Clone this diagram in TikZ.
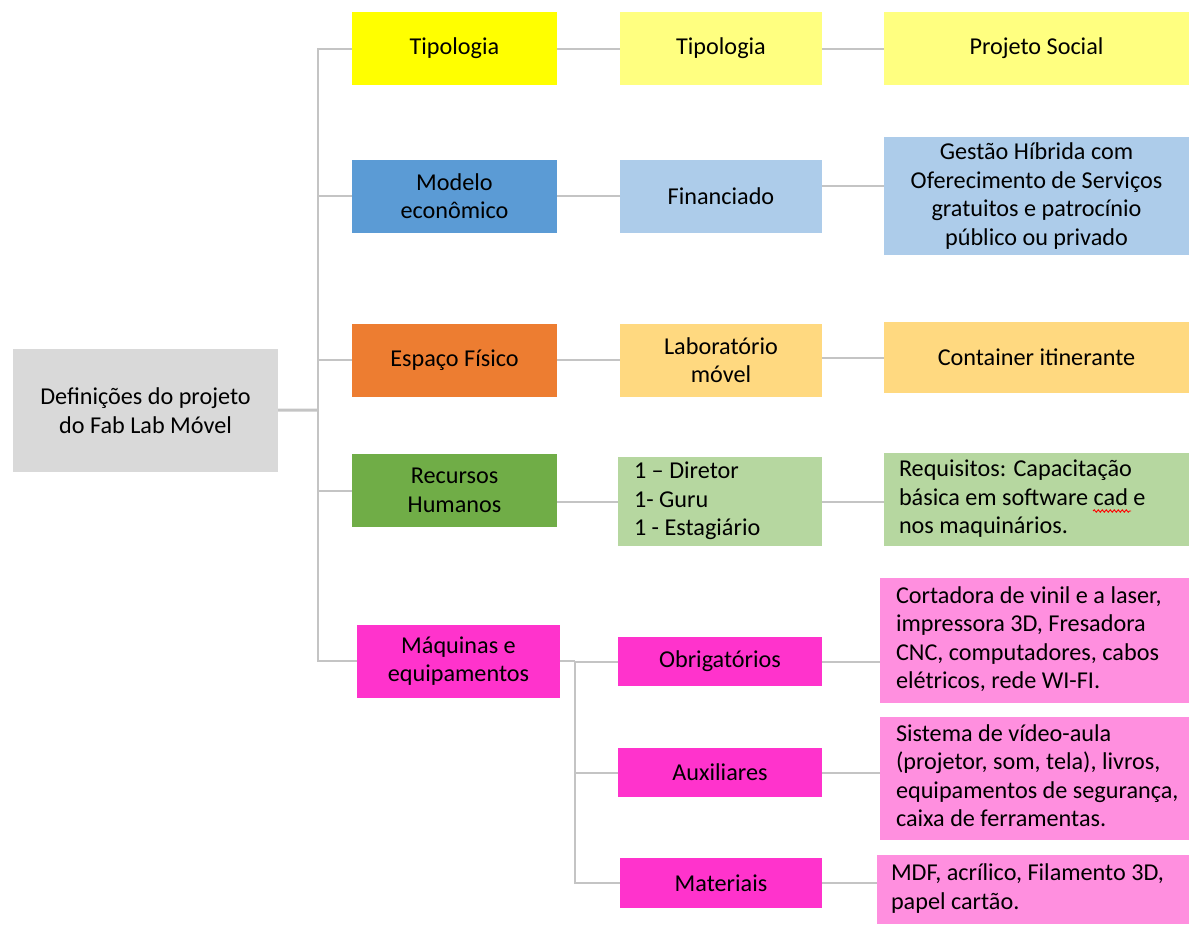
\documentclass[tikz,border=0pt]{standalone}
\usepackage{fontspec}
\setmainfont{Carlito}
\usetikzlibrary{decorations.pathmorphing}

\definecolor{rootgray}{HTML}{D9D9D9}
\definecolor{linegray}{HTML}{C4C4C4}
\definecolor{yelA}{HTML}{FFFF00}
\definecolor{yelB}{HTML}{FFFF80}
\definecolor{bluA}{HTML}{5B9BD5}
\definecolor{bluB}{HTML}{ADCCEA}
\definecolor{orgA}{HTML}{ED7D31}
\definecolor{orgB}{HTML}{FFD980}
\definecolor{grnA}{HTML}{70AD47}
\definecolor{grnB}{HTML}{B6D7A0}
\definecolor{pnkA}{HTML}{FF33CC}
\definecolor{pnkB}{HTML}{FF8FDF}

% lines set flush left in a box of fixed width
\newcommand{\leftlines}[2]{\makebox[#1pt][l]{\begin{tabular}{@{}l@{}}#2\end{tabular}}}

\begin{document}
\begin{tikzpicture}[x=1pt, y=-1pt,
	box/.style={rectangle, draw=none, inner sep=0pt, align=center, text=black,
		font=\fontsize{24.2}{28.5}\selectfont},
	conn/.style={draw=linegray, line width=2pt}]
	\useasboundingbox (0,0) rectangle (1189,924);

	% root
	\node [box, fill=rootgray, minimum width=265, minimum height=123] (root) at (145.5,410.5)
		{Defini\c{c}\~oes do projeto\\do Fab Lab M\'ovel};

	% first column
	\node [box, fill=yelA, minimum width=205, minimum height=73] (tipA) at (454.5,48.5) {Tipologia};
	\node [box, fill=bluA, minimum width=205, minimum height=73] (mod) at (454.5,196) {Modelo\\econ\^omico};
	\node [box, fill=orgA, minimum width=205, minimum height=73] (esp) at (454.5,360) {Espa\c{c}o F\'isico};
	\node [box, fill=grnA, minimum width=205, minimum height=73] (rh) at (454.5,490.5) {Recursos\\Humanos};
	\node [box, fill=pnkA, minimum width=203, minimum height=73] (maq) at (458.5,661) {M\'aquinas e\\equipamentos};

	% second column
	\node [box, fill=yelB, minimum width=202, minimum height=73] (tipB) at (721,48.5) {Tipologia};
	\node [box, fill=bluB, minimum width=202, minimum height=73] (fin) at (721,196) {Financiado};
	\node [box, fill=orgB, minimum width=202, minimum height=73] (lab) at (721,360) {Laborat\'orio\\m\'ovel};
	\node [box, fill=grnB, minimum width=204, minimum height=89] (dir) at (720,501.5)
		{\leftlines{172}{1 -- Diretor\\1- Guru\\1 - Estagi\'ario}};
	\node [box, fill=pnkA, minimum width=204, minimum height=49] (obr) at (720,661.5) {Obrigat\'orios};
	\node [box, fill=pnkA, minimum width=204, minimum height=49] (aux) at (720,772.5) {Auxiliares};
	\node [box, fill=pnkA, minimum width=202, minimum height=50] (mat) at (721,883) {Materiais};

	% third column
	\node [box, fill=yelB, minimum width=305, minimum height=73] (soc) at (1036.5,48.5) {Projeto Social};
	\node [box, fill=bluB, minimum width=305, minimum height=118] (gest) at (1036.5,196)
		{Gest\~ao H\'ibrida com\\Oferecimento de Servi\c{c}os\\gratuitos e patroc\'inio\\p\'ublico ou privado};
	\node [box, fill=orgB, minimum width=305, minimum height=71] (cont) at (1036.5,357.5) {Container itinerante};
	\node [box, fill=grnB, minimum width=305, minimum height=93] (req) at (1036.5,499.5)
		{\leftlines{275}{Requisitos: Capacita\c{c}\~ao\\b\'asica em software cad e\\nos maquin\'arios.}};
	\node [box, fill=pnkB, minimum width=309, minimum height=125] (cort) at (1034.5,640.5)
		{\leftlines{277}{Cortadora de vinil e a laser,\\impressora 3D, Fresadora\\CNC, computadores, cabos\\el\'etricos, rede WI-FI.}};
	\node [box, fill=pnkB, minimum width=309, minimum height=123] (sis) at (1034.5,778.5)
		{\leftlines{277}{Sistema de v\'ideo-aula\\(projetor, som, tela), livros,\\equipamentos de seguran\c{c}a,\\caixa de ferramentas.}};
	\node [box, fill=pnkB, minimum width=312, minimum height=69] (mdf) at (1033,889.5)
		{\leftlines{284}{MDF, acr\'ilico, Filamento 3D,\\papel cart\~ao.}};

	% spell check mark
	\draw [red, line width=0.9pt, decorate, decoration={snake, amplitude=1.2pt, segment length=4pt}]
		(1093,511) -- (1131,511);

	% trunk
	\coordinate (jA) at (318,410);
	\coordinate (jB) at (575,661);
	\draw [conn, line width=3pt] (root) -- (jA);
	\draw [conn] (tipA.west) -| (jA);
	\draw [conn] (mod.west) -| (jA);
	\draw [conn] (esp.west) -| (jA);
	\draw [conn] (rh.west) -| (jA);
	\draw [conn] (maq.west) -| (jA);

	% second level
	\draw [conn] (tipA) -- (tipB);
	\draw [conn] (mod) -- (fin);
	\draw [conn] (esp) -- (lab);
	\draw [conn] (rh.east |- dir.west) -- (dir.west);
	\draw [conn] (maq.east) -- (jB);
	\draw [conn] (obr.west) -| (jB);
	\draw [conn] (aux.west) -| (jB);
	\draw [conn] (mat.west) -| (jB);

	% third level
	\draw [conn] (tipB) -- (soc);
	\draw [conn] (fin.east) ++(0,-10) -- (gest.west |- 0,186);
	\draw [conn] (lab.east |- cont.west) -- (cont.west);
	\draw [conn] (dir) -- (dir.east -| req.west);
	\draw [conn] (obr) -- (obr.east -| cort.west);
	\draw [conn] (aux) -- (aux.east -| sis.west);
	\draw [conn] (mat) -- (mat.east -| mdf.west);
\end{tikzpicture}
\end{document}
